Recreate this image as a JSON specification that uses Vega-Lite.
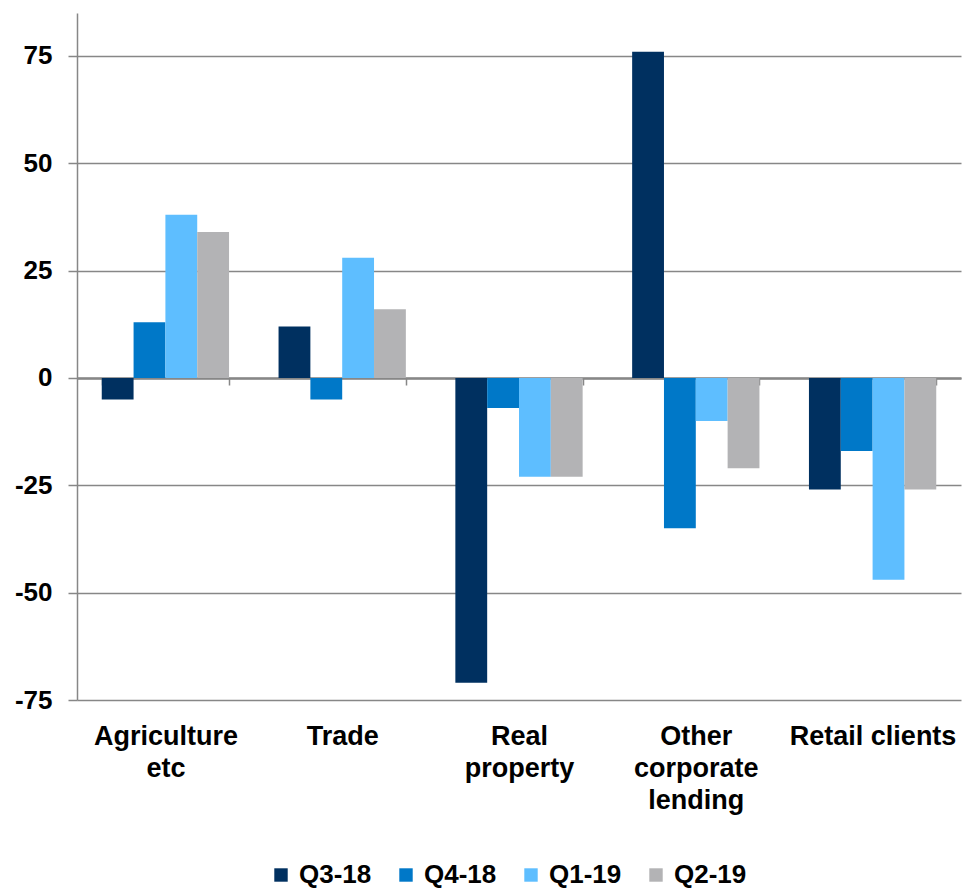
{
  "$schema": "https://vega.github.io/schema/vega-lite/v6.json",
  "autosize": {"type": "none"},
  "padding": {"left": 77, "top": 13, "right": 1, "bottom": 189},
  "width": 884,
  "height": 687,
  "background": "white",
  "config": {
    "view": {"stroke": null},
    "font": "Liberation Sans"
  },
  "data": {
    "values": [
      {"sector": "Agriculture etc", "quarter": "Q3-18", "value": -5},
      {"sector": "Agriculture etc", "quarter": "Q4-18", "value": 13},
      {"sector": "Agriculture etc", "quarter": "Q1-19", "value": 38},
      {"sector": "Agriculture etc", "quarter": "Q2-19", "value": 34},
      {"sector": "Trade", "quarter": "Q3-18", "value": 12},
      {"sector": "Trade", "quarter": "Q4-18", "value": -5},
      {"sector": "Trade", "quarter": "Q1-19", "value": 28},
      {"sector": "Trade", "quarter": "Q2-19", "value": 16},
      {"sector": "Real property", "quarter": "Q3-18", "value": -71},
      {"sector": "Real property", "quarter": "Q4-18", "value": -7},
      {"sector": "Real property", "quarter": "Q1-19", "value": -23},
      {"sector": "Real property", "quarter": "Q2-19", "value": -23},
      {"sector": "Other corporate lending", "quarter": "Q3-18", "value": 76},
      {"sector": "Other corporate lending", "quarter": "Q4-18", "value": -35},
      {"sector": "Other corporate lending", "quarter": "Q1-19", "value": -10},
      {"sector": "Other corporate lending", "quarter": "Q2-19", "value": -21},
      {"sector": "Retail clients", "quarter": "Q3-18", "value": -26},
      {"sector": "Retail clients", "quarter": "Q4-18", "value": -17},
      {"sector": "Retail clients", "quarter": "Q1-19", "value": -47},
      {"sector": "Retail clients", "quarter": "Q2-19", "value": -26}
    ]
  },
  "mark": {"type": "bar"},
  "encoding": {
    "x": {
      "field": "sector",
      "type": "nominal",
      "sort": ["Agriculture etc", "Trade", "Real property", "Other corporate lending", "Retail clients"],
      "scale": {"paddingInner": 0.28, "paddingOuter": 0.14},
      "axis": {
        "title": null,
        "orient": "bottom",
        "offset": -322,
        "domain": true,
        "domainColor": "#878787",
        "domainWidth": 2.5,
        "ticks": true,
        "tickBand": "extent",
        "tickColor": "#878787",
        "tickWidth": 1.5,
        "tickSize": 7,
        "labelPadding": 338,
        "labelAngle": 0,
        "labelFont": "Liberation Sans",
        "labelFontWeight": "bold",
        "labelFontSize": 27,
        "labelColor": "black",
        "labelLineHeight": 32,
        "labelBaseline": "top",
        "labelExpr": "datum.value == 'Agriculture etc' ? ['Agriculture', 'etc'] : datum.value == 'Real property' ? ['Real', 'property'] : datum.value == 'Other corporate lending' ? ['Other', 'corporate', 'lending'] : datum.value",
        "labelOverlap": false,
        "labelBound": false,
        "grid": false
      }
    },
    "xOffset": {
      "field": "quarter",
      "type": "nominal",
      "sort": ["Q3-18", "Q4-18", "Q1-19", "Q2-19"],
      "scale": {"paddingInner": 0, "paddingOuter": 0}
    },
    "y": {
      "field": "value",
      "type": "quantitative",
      "scale": {"domain": [-75, 85], "nice": false, "zero": false},
      "axis": {
        "title": null,
        "values": [-75, -50, -25, 0, 25, 50, 75],
        "labelExpr": "replace(datum.label, '\u2212', '-')",
        "domainColor": "#878787",
        "domainWidth": 1.5,
        "tickColor": "#878787",
        "tickWidth": 1.5,
        "tickSize": 9,
        "labelPadding": 16,
        "labelFont": "Liberation Sans",
        "labelFontWeight": "bold",
        "labelFontSize": 26,
        "labelColor": "black",
        "labelOverlap": false,
        "labelBound": false,
        "grid": true,
        "gridColor": "#878787",
        "gridWidth": 1.5
      }
    },
    "color": {
      "field": "quarter",
      "type": "nominal",
      "sort": ["Q3-18", "Q4-18", "Q1-19", "Q2-19"],
      "scale": {
        "domain": ["Q3-18", "Q4-18", "Q1-19", "Q2-19"],
        "range": ["#003060", "#0078C8", "#5EBEFF", "#B3B3B5"]
      },
      "legend": {
        "title": null,
        "orient": "none",
        "legendX": 191,
        "legendY": 849,
        "direction": "horizontal",
        "columns": 4,
        "symbolType": "square",
        "symbolSize": 180,
        "symbolStrokeWidth": 0,
        "symbolOffset": 0,
        "labelOffset": 5,
        "labelFont": "Liberation Sans",
        "labelFontWeight": "bold",
        "labelFontSize": 26,
        "labelColor": "black",
        "columnPadding": 21
      }
    }
  }
}
